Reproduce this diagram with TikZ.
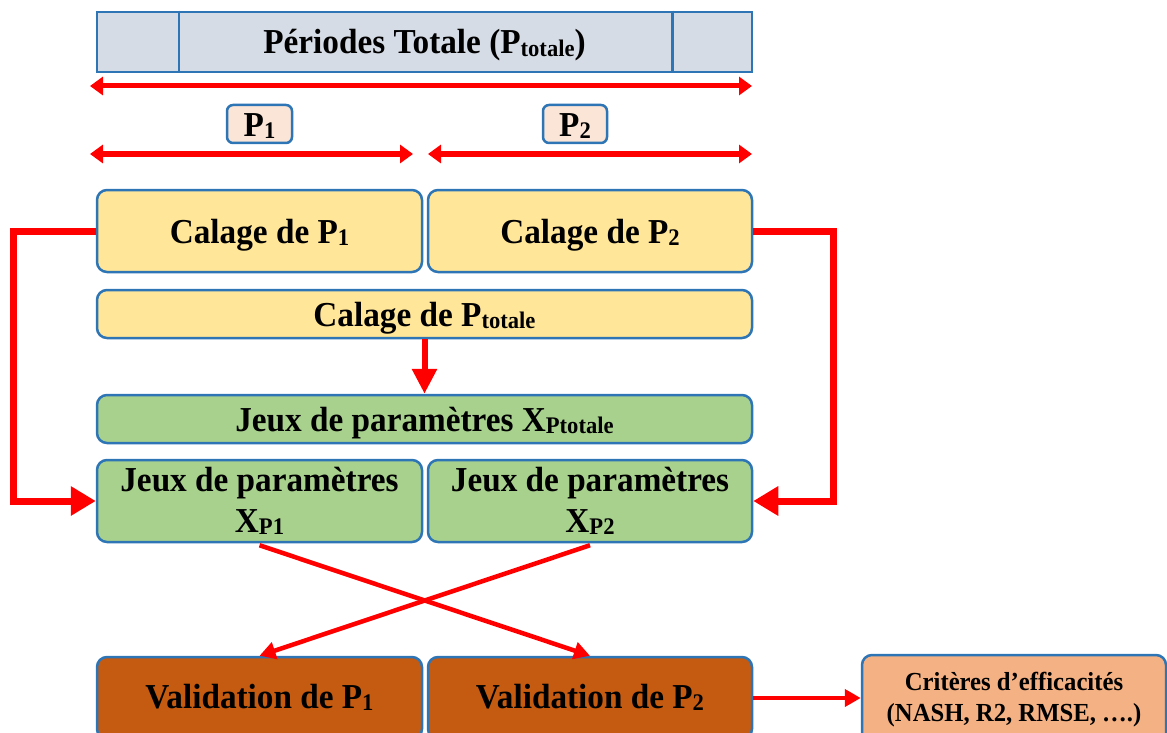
\documentclass[tikz,border=0pt]{standalone}
\usepackage{fontspec}
\setmainfont{Liberation Serif}[FakeStretch=0.95]
\usetikzlibrary{arrows.meta}
\definecolor{frameblue}{HTML}{2E75B6}
\definecolor{barfill}{HTML}{D6DCE5}
\definecolor{pfill}{HTML}{FBE5D6}
\definecolor{calfill}{HTML}{FFE699}
\definecolor{jeufill}{HTML}{A9D18E}
\definecolor{valfill}{HTML}{C55A11}
\definecolor{critfill}{HTML}{F4B183}
\definecolor{arrowred}{HTML}{FF0000}
% small lowered index, as in P1, P2, Ptotale
\newcommand\lowidx[1]{\raisebox{-0.06em}{\scalebox{0.68}{#1}}}
\begin{document}
\begin{tikzpicture}[x=1pt,y=-1pt,
  font=\bfseries\fontsize{35}{41}\selectfont,
  box/.style={draw=frameblue, line width=2.5pt, rounded corners=10pt,
    inner sep=0pt, align=center},
  oneline/.style={text height=24pt, text depth=0pt},
  calbox/.style={box, oneline, fill=calfill},
  jeubox/.style={box, fill=jeufill},
  valbox/.style={box, fill=valfill, text height=24pt, text depth=4pt},
  pbox/.style={box, oneline, fill=pfill, rounded corners=6pt},
  span/.style={arrowred, line width=5pt,
    {Triangle[length=13pt,width=18pt]}-{Triangle[length=13pt,width=18pt]}},
  feed/.style={arrowred, line width=7pt, -{Triangle[length=25pt,width=28pt]}},
  thin link/.style={arrowred, line width=4.5pt, -{Triangle[length=16pt,width=17pt]}}
]
\useasboundingbox (0,0) rectangle (1167,733);
\clip (0,0) rectangle (1167,733);

% total period bar
\node[draw=frameblue, fill=barfill, line width=2.5pt, minimum width=655pt,
  minimum height=60pt, inner sep=0pt, oneline] (bar) at (424.5,42)
  {Périodes Totale (P\lowidx{totale})};
\draw[frameblue, line width=2.5pt] ([xshift=83pt]bar.north west) -- ([xshift=83pt]bar.south west);
\draw[frameblue, line width=2.5pt] ([xshift=-81pt]bar.north east) -- ([xshift=-81pt]bar.south east);

% period spans
\coordinate (tl) at (90,86);
\coordinate (tr) at (752,86);
\draw[span] (tl) -- (tr);

\node[pbox, minimum width=65pt, minimum height=38pt] (p1) at (259.5,124) {P\lowidx{1}};
\node[pbox, minimum width=64pt, minimum height=38pt] (p2) at (575,124) {P\lowidx{2}};

\coordinate (s1l) at (90,154);
\coordinate (s1r) at (413,154);
\coordinate (s2l) at (428,154);
\coordinate (s2r) at (752,154);
\draw[span] (s1l) -- (s1r);
\draw[span] (s2l) -- (s2r);

% calibration
\node[calbox, minimum width=325pt, minimum height=82pt] (cal1) at (259.5,231) {Calage de P\lowidx{1}};
\node[calbox, minimum width=324pt, minimum height=82pt] (cal2) at (590,231) {Calage de P\lowidx{2}};
\node[calbox, minimum width=655pt, minimum height=48pt] (calt) at (424.5,314) {Calage de P\lowidx{totale}};

% parameter sets
\node[box, fill=jeufill, oneline, minimum width=655pt, minimum height=48pt] (jxt) at (424.5,419) {Jeux de paramètres X\lowidx{Ptotale}};
\node[jeubox, minimum width=325pt, minimum height=82pt] (jx1) at (259.5,501) {Jeux de paramètres\\X\lowidx{P1}};
\node[jeubox, minimum width=324pt, minimum height=82pt] (jx2) at (590,501) {Jeux de paramètres\\X\lowidx{P2}};

% validation
\node[valbox, minimum width=325pt, minimum height=82pt] (val1) at (259.5,698) {Validation de P\lowidx{1}};
\node[valbox, minimum width=324pt, minimum height=82pt] (val2) at (590,698) {Validation de P\lowidx{2}};

\node[box, fill=critfill, minimum width=304pt, minimum height=90pt,
  font=\bfseries\fontsize{26}{31}\selectfont] (crit) at (1014,700)
  {Critères d’efficacités\\(NASH, R2, RMSE, ….)};

% connectors
\draw[arrowred, line width=6pt, -{Triangle[length=25pt,width=24pt]}] (calt.south) -- (jxt.north);
\draw[feed] (cal1.west) -- ++(-82,0) |- (jx1.west);
\draw[feed] (cal2.east) -- ++(80,0) |- (jx2.east);
\draw[thin link] ([yshift=-2pt]jx1.south) -- (val2.north);
\draw[thin link] ([yshift=-2pt]jx2.south) -- (val1.north);
\draw[thin link] (val2.east) -- (val2.east -| crit.west);
\end{tikzpicture}
\end{document}
